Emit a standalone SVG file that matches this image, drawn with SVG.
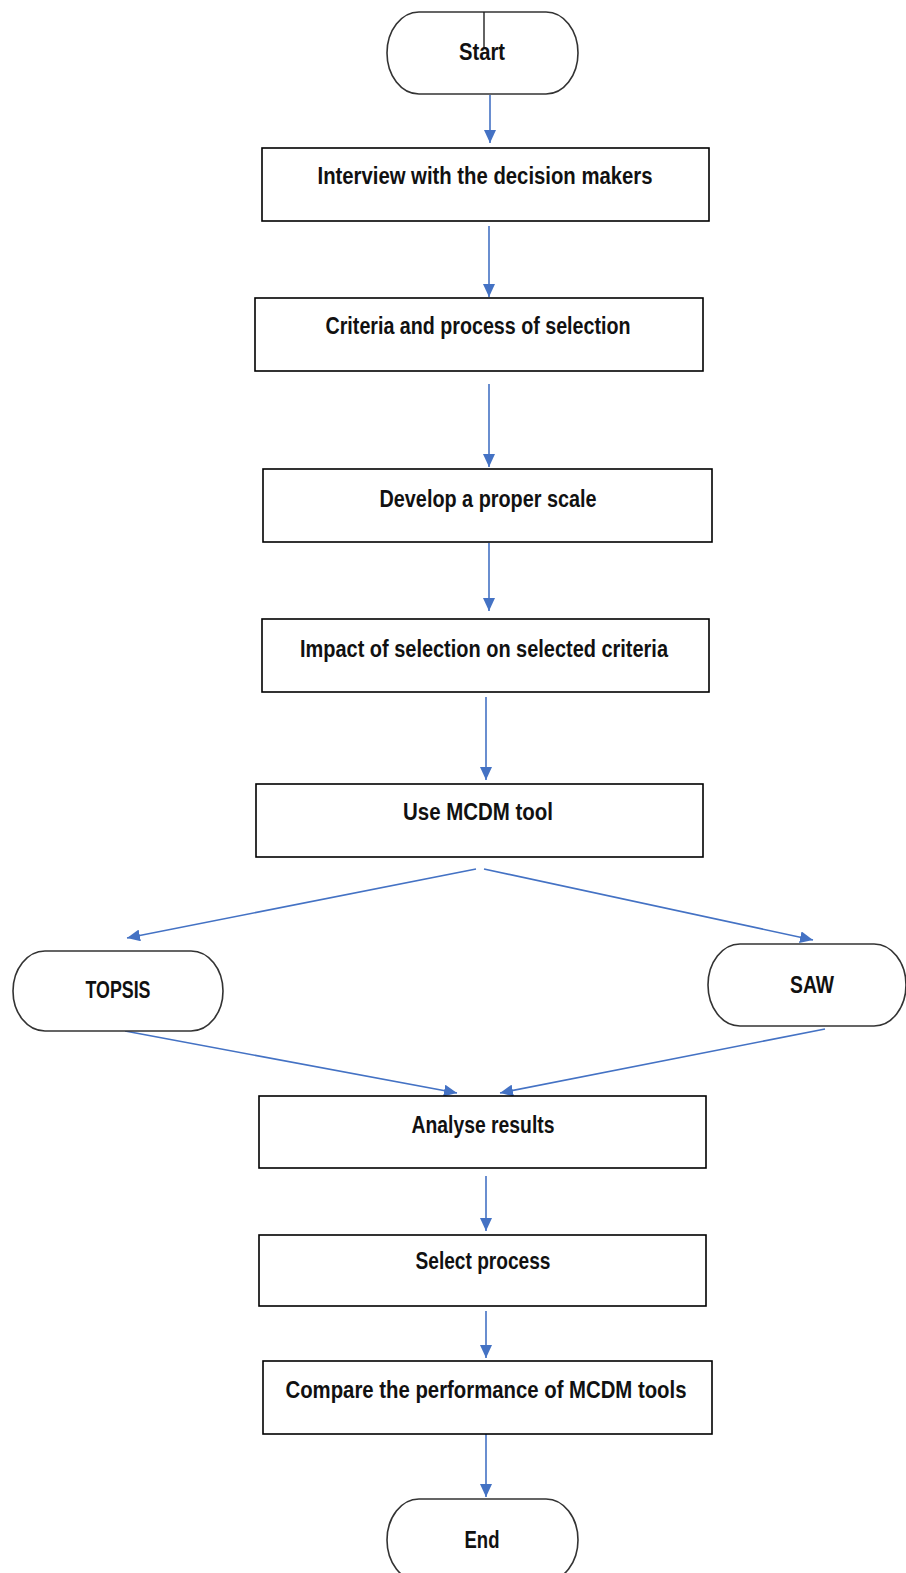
<svg xmlns="http://www.w3.org/2000/svg" width="906" height="1573" viewBox="0 0 906 1573">
<style>
.box{fill:#fff;stroke:#000;stroke-width:1.6}
.term{fill:#fff;stroke:#333;stroke-width:1.6}
.t{font-family:"Liberation Sans Narrow","Liberation Sans",Arial,sans-serif;font-weight:bold;font-size:23px;fill:#111;text-anchor:middle}
.c{fill:none;stroke:#4472C4;stroke-width:1.6;marker-end:url(#ah)}
</style>
<defs>
<marker id="ah" markerUnits="userSpaceOnUse" markerWidth="13" markerHeight="12" refX="13" refY="6" orient="auto">
<path d="M0,0 L13,6 L0,12 Z" fill="#4472C4"/>
</marker>
</defs>
<rect width="906" height="1573" fill="#fff"/>
<g id="connectors">
<line class="c" x1="490" y1="95" x2="490" y2="143"/>
<line class="c" x1="489" y1="226" x2="489" y2="297"/>
<line class="c" x1="489" y1="384" x2="489" y2="467"/>
<line class="c" x1="489" y1="543" x2="489" y2="611"/>
<line class="c" x1="486" y1="697" x2="486" y2="780"/>
<line class="c" x1="476" y1="869" x2="127" y2="938"/>
<line class="c" x1="484" y1="869" x2="813" y2="940"/>
<line class="c" x1="125" y1="1031" x2="457" y2="1093"/>
<line class="c" x1="825" y1="1029" x2="500" y2="1093"/>
<line class="c" x1="486" y1="1176" x2="486" y2="1231"/>
<line class="c" x1="486" y1="1311" x2="486" y2="1358"/>
<line class="c" x1="486" y1="1434" x2="486" y2="1497"/>
</g>
<g id="start">
<rect class="term" x="387" y="12" width="191" height="82" rx="32" ry="41"/>
<line x1="484" y1="12" x2="484" y2="49" stroke="#222" stroke-width="1.4"/>
<text class="t" x="482" y="60" textLength="46" lengthAdjust="spacingAndGlyphs">Start</text>
</g>
<g id="interview">
<rect class="box" x="262" y="148" width="447" height="73"/>
<text class="t" x="485" y="184" textLength="335" lengthAdjust="spacingAndGlyphs">Interview with the decision makers</text>
</g>
<g id="criteria">
<rect class="box" x="255" y="298" width="448" height="73"/>
<text class="t" x="478" y="334" textLength="305" lengthAdjust="spacingAndGlyphs">Criteria and process of selection</text>
</g>
<g id="scale">
<rect class="box" x="263" y="469" width="449" height="73"/>
<text class="t" x="488" y="507" textLength="217" lengthAdjust="spacingAndGlyphs">Develop a proper scale</text>
</g>
<g id="impact">
<rect class="box" x="262" y="619" width="447" height="73"/>
<text class="t" x="484" y="657" textLength="368" lengthAdjust="spacingAndGlyphs">Impact of selection on selected criteria</text>
</g>
<g id="mcdm">
<rect class="box" x="256" y="784" width="447" height="73"/>
<text class="t" x="478" y="820" textLength="150" lengthAdjust="spacingAndGlyphs">Use MCDM tool</text>
</g>
<g id="topsis">
<rect class="term" x="13" y="951" width="210" height="80" rx="32" ry="40"/>
<text class="t" x="118" y="998" textLength="65" lengthAdjust="spacingAndGlyphs">TOPSIS</text>
</g>
<g id="saw">
<rect class="term" x="708" y="944" width="198" height="82" rx="32" ry="41"/>
<text class="t" x="812" y="993" textLength="44" lengthAdjust="spacingAndGlyphs">SAW</text>
</g>
<g id="analyse">
<rect class="box" x="259" y="1096" width="447" height="72"/>
<text class="t" x="483" y="1133" textLength="143" lengthAdjust="spacingAndGlyphs">Analyse results</text>
</g>
<g id="select">
<rect class="box" x="259" y="1235" width="447" height="71"/>
<text class="t" x="483" y="1269" textLength="135" lengthAdjust="spacingAndGlyphs">Select process</text>
</g>
<g id="compare">
<rect class="box" x="263" y="1361" width="449" height="73"/>
<text class="t" x="486" y="1398" textLength="401" lengthAdjust="spacingAndGlyphs">Compare the performance of MCDM tools</text>
</g>
<g id="end">
<rect class="term" x="387" y="1499" width="191" height="82" rx="32" ry="41"/>
<text class="t" x="482" y="1548" textLength="35" lengthAdjust="spacingAndGlyphs">End</text>
</g>
</svg>
